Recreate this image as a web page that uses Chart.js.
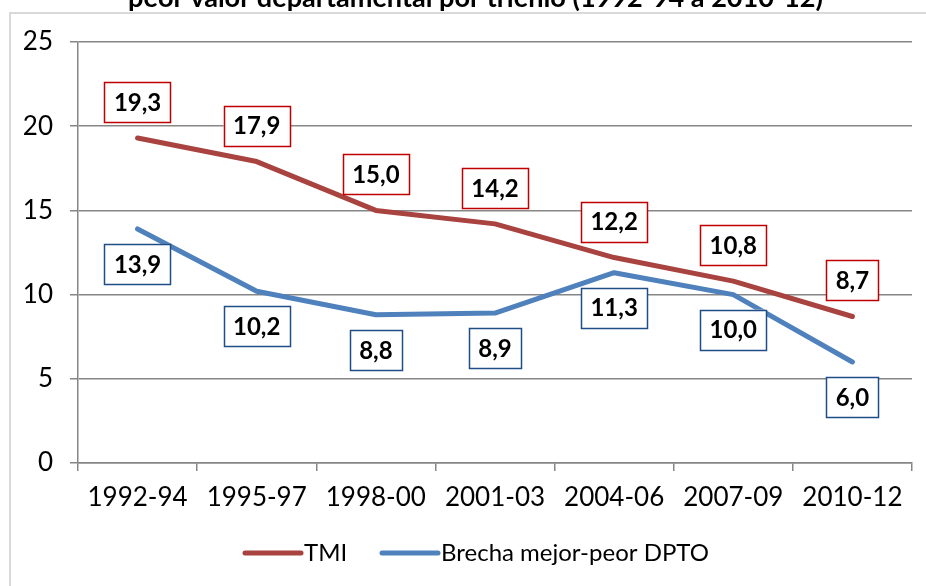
<!DOCTYPE html>
<html>
<head>
<meta charset="utf-8">
<script src="https://cdn.jsdelivr.net/npm/chart.js@4.4.0/dist/chart.umd.min.js"></script>
<style>
html,body{margin:0;padding:0;background:#fff;}
#wrap{width:926px;height:586px;position:relative;}
</style>
</head>
<body>
<div id="wrap"><canvas id="c" width="926" height="586"></canvas></div>
<script>
const categories = ["1992-94","1995-97","1998-00","2001-03","2004-06","2007-09","2010-12"];
const tmi = [19.3, 17.9, 15.0, 14.2, 12.2, 10.8, 8.7];
const brecha = [13.9, 10.2, 8.8, 8.9, 11.3, 10.0, 6.0];
const yTicks = [0, 5, 10, 15, 20, 25];
const seriesNames = ["TMI", "Brecha mejor-peor DPTO"];
const titleText = "peor valor departamental por trienio (1992-94 a 2010-12)";

const FONT = "Lato, 'Open Sans', sans-serif";
const RED = "#A9433F";
const BLUE = "#4F81BD";
const RED_BOX = "#C00000";
const BLUE_BOX = "#1F4E86";

const decor = {
  id: 'decor',
  beforeDraw(chart) {
    const ctx = chart.ctx;
    ctx.save();
    ctx.strokeStyle = '#D9D9D9';
    ctx.lineWidth = 2;
    ctx.beginPath();
    ctx.moveTo(10, 600);
    ctx.lineTo(10, 13);
    ctx.lineTo(940, 13);
    ctx.stroke();
    ctx.fillStyle = '#000';
    ctx.font = "bold 20px " + FONT;
    const wRef = ctx.measureText(titleText).width;
    const size = 20 * 695 / wRef;
    ctx.font = "bold " + size.toFixed(2) + "px " + FONT;
    ctx.textAlign = 'center';
    ctx.textBaseline = 'alphabetic';
    ctx.fillText(titleText, 475.5, 7);
    ctx.restore();
  },
  afterDatasetsDraw(chart) {
    const ctx = chart.ctx;
    ctx.save();
    ctx.font = "bold 24px " + FONT;
    ctx.textAlign = 'center';
    ctx.textBaseline = 'middle';
    const offs = [-36, 35];
    const boxCols = [RED_BOX, BLUE_BOX];
    chart.data.datasets.forEach((ds, di) => {
      const meta = chart.getDatasetMeta(di);
      meta.data.forEach((pt, i) => {
        const txt = ds.data[i].toFixed(1).replace('.', ',');
        const w = ctx.measureText(txt).width + 19;
        const h = 40;
        const cx = pt.x, cy = pt.y + offs[di];
        ctx.fillStyle = '#fff';
        ctx.fillRect(cx - w/2, cy - h/2, w, h);
        ctx.strokeStyle = boxCols[di];
        ctx.lineWidth = 1.5;
        ctx.strokeRect(Math.round(cx - w/2) + 0.5, Math.round(cy - h/2) + 0.5, Math.round(w), h);
        ctx.fillStyle = '#000';
        ctx.fillText(txt, cx, cy + 1);
      });
    });
    // legend
    ctx.font = "24px " + FONT;
    ctx.textAlign = 'left';
    const items = [{x: 245, c: RED}, {x: 382, c: BLUE}];
    const ly = 553;
    items.forEach((it, k) => {
      ctx.strokeStyle = it.c;
      ctx.lineWidth = 5;
      ctx.lineCap = 'round';
      ctx.beginPath();
      ctx.moveTo(it.x, ly);
      ctx.lineTo(it.x + 56, ly);
      ctx.stroke();
      ctx.fillStyle = '#000';
      ctx.fillText(seriesNames[k], it.x + 59, ly);
    });
    ctx.restore();
  }
};

new Chart(document.getElementById('c'), {
  type: 'line',
  data: {
    labels: categories,
    datasets: [
      { label: seriesNames[0], data: tmi, borderColor: RED, backgroundColor: RED, borderWidth: 5, pointRadius: 0, tension: 0, borderCapStyle: 'round', borderJoinStyle: 'round' },
      { label: seriesNames[1], data: brecha, borderColor: BLUE, backgroundColor: BLUE, borderWidth: 5, pointRadius: 0, tension: 0, borderCapStyle: 'round', borderJoinStyle: 'round' }
    ]
  },
  options: {
    responsive: false,
    animation: false,
    devicePixelRatio: 1,
    layout: { padding: { left: 0, right: 14, top: 42, bottom: 63 } },
    plugins: { legend: { display: false }, tooltip: { enabled: false }, title: { display: false } },
    scales: {
      x: {
        offset: true,
        grid: { offset: true, drawOnChartArea: false, color: '#868686', lineWidth: 1.5, tickLength: 8 },
        border: { color: '#868686', width: 1.5 },
        ticks: { color: '#000', font: { family: FONT, size: 26 }, padding: 11, maxRotation: 0 },
        afterFit(s) { s.height = 60; }
      },
      y: {
        min: 0, max: 25,
        afterBuildTicks(s) { s.ticks = yTicks.map(v => ({ value: v })); },
        grid: { color: '#868686', lineWidth: 1.5, tickLength: 8 },
        border: { color: '#868686', width: 1.5 },
        ticks: { color: '#000', font: { family: FONT, size: 26 }, padding: 17 },
        afterFit(s) { s.width = 78; }
      }
    }
  },
  plugins: [decor]
});
</script>
</body>
</html>
